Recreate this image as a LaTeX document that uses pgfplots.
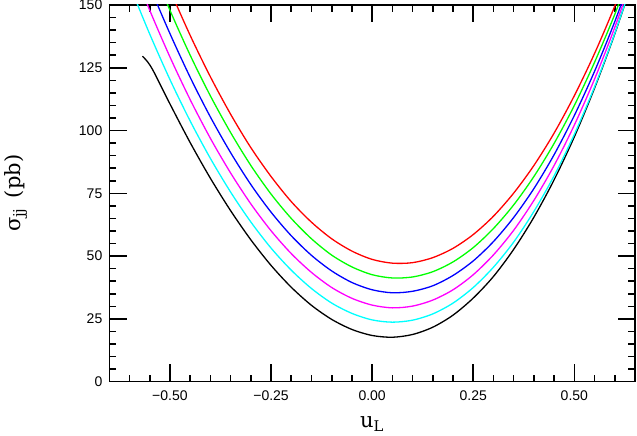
\documentclass[border=0pt]{standalone}
\usepackage{pgfplots}
\pgfplotsset{compat=1.18}
\usepackage{fontspec}
\setmainfont{Liberation Sans}
\newfontfamily\labelfont{DejaVu Serif}
\definecolor{cR}{RGB}{255,0,0}
\definecolor{cG}{RGB}{0,255,0}
\definecolor{cB}{RGB}{0,0,255}
\definecolor{cM}{RGB}{255,0,255}
\definecolor{cC}{RGB}{0,255,255}
\begin{document}
\begin{tikzpicture}
\begin{axis}[
  scale only axis,
  width=262.85pt, height=188.35pt,
  xmin=-0.65, xmax=0.65, ymin=0, ymax=150,
  axis line style={line width=0.8pt},
  every tick/.style={line width=0.8pt, black},
  tick align=inside, tick pos=both,
  major tick length=8.6pt, minor tick length=3.3pt,
  xtick={-0.5,-0.25,0,0.25,0.5},
  xticklabels={−0.50,−0.25,0.00,0.25,0.50},
  minor xtick={-0.6,-0.55,-0.45,-0.4,-0.35,-0.3,-0.2,-0.15,-0.1,-0.05,0.05,0.1,0.15,0.2,0.3,0.35,0.4,0.45,0.55,0.6},
  ytick={0,25,50,75,100,125,150},
  yticklabels={0,25,50,75,100,125,150},
  minor ytick={5,10,15,20,30,35,40,45,55,60,65,70,80,85,90,95,105,110,115,120,130,135,140,145},
  xticklabel style={font=\fontsize{7}{8}\selectfont, inner sep=0pt, anchor=north, yshift=-4.2pt},
  yticklabel style={font=\fontsize{7}{8}\selectfont, inner sep=0pt, anchor=east, xshift=-3.3pt},
  xlabel={\labelfont u\textsubscript{L}},
  ylabel={\labelfont σ\textsubscript{jj}\hspace{0.45em}(pb)},
  every axis x label/.style={at={([yshift=-23.15pt]axis description cs:0.5,0)}, anchor=base, font=\fontsize{10.5}{12}\selectfont},
  every axis y label/.style={at={([xshift=-44.3pt]axis description cs:0,0.5)}, rotate=90, anchor=base, font=\fontsize{10.5}{12}\selectfont},
  every axis plot/.append style={line width=0.65pt, smooth, no markers, line join=round},
]
\addplot[black] coordinates {(-0.568,129.6) (-0.555,127.3) (-0.54,123.4) (-0.50,110.6) (-0.45,95.2) (-0.40,81.0) (-0.35,68.1) (-0.30,56.5) (-0.25,46.3) (-0.20,37.6) (-0.15,30.4) (-0.10,24.8) (-0.05,20.8) (0,18.4) (0.05,17.7) (0.10,18.8) (0.15,21.7) (0.20,26.5) (0.25,33.3) (0.30,41.9) (0.35,52.7) (0.40,65.5) (0.45,80.4) (0.50,97.5) (0.55,116.9) (0.60,138.5) (0.65,162.5)};
\addplot[cC] coordinates {(-0.60,158.0) (-0.55,138.4) (-0.50,120.3) (-0.45,103.8) (-0.40,88.9) (-0.35,75.5) (-0.30,63.6) (-0.25,53.2) (-0.20,44.4) (-0.15,37.1) (-0.10,31.3) (-0.05,27.2) (0,24.6) (0.05,23.7) (0.10,24.5) (0.15,27.0) (0.20,31.3) (0.25,37.5) (0.30,45.6) (0.35,55.6) (0.40,67.8) (0.45,82.0) (0.50,98.5) (0.55,117.4) (0.60,138.7) (0.65,162.5)};
\addplot[cM] coordinates {(-0.60,168.1) (-0.55,147.9) (-0.50,129.3) (-0.45,112.3) (-0.40,96.9) (-0.35,83.1) (-0.30,70.8) (-0.25,60.1) (-0.20,51.0) (-0.15,43.5) (-0.10,37.5) (-0.05,33.2) (0,30.5) (0.05,29.4) (0.10,30.1) (0.15,32.5) (0.20,36.6) (0.25,42.6) (0.30,50.5) (0.35,60.3) (0.40,72.2) (0.45,86.1) (0.50,102.2) (0.55,120.5) (0.60,141.1) (0.65,164.2)};
\addplot[cB] coordinates {(-0.60,178.1) (-0.55,157.5) (-0.50,138.6) (-0.45,121.2) (-0.40,105.4) (-0.35,91.2) (-0.30,78.5) (-0.25,67.5) (-0.20,58.1) (-0.15,50.3) (-0.10,44.1) (-0.05,39.5) (0,36.6) (0.05,35.4) (0.10,36.0) (0.15,38.2) (0.20,42.3) (0.25,48.1) (0.30,55.8) (0.35,65.4) (0.40,76.9) (0.45,90.4) (0.50,106.0) (0.55,123.6) (0.60,143.4) (0.65,165.4)};
\addplot[cG] coordinates {(-0.55,167.3) (-0.50,147.9) (-0.45,130.0) (-0.40,113.8) (-0.35,99.2) (-0.30,86.1) (-0.25,74.7) (-0.20,65.0) (-0.15,56.9) (-0.10,50.4) (-0.05,45.7) (0,42.6) (0.05,41.3) (0.10,41.7) (0.15,43.8) (0.20,47.7) (0.25,53.4) (0.30,61.0) (0.35,70.4) (0.40,81.7) (0.45,94.9) (0.50,110.0) (0.55,127.2) (0.60,146.3) (0.65,167.5)};
\addplot[cR] coordinates {(-0.55,175.9) (-0.50,156.1) (-0.45,137.9) (-0.40,121.4) (-0.35,106.5) (-0.30,93.2) (-0.25,81.7) (-0.20,71.7) (-0.15,63.5) (-0.10,56.9) (-0.05,52.0) (0,48.7) (0.05,47.2) (0.10,47.4) (0.15,49.4) (0.20,53.1) (0.25,58.6) (0.30,65.9) (0.35,75.1) (0.40,86.1) (0.45,99.0) (0.50,113.9) (0.55,130.7) (0.60,149.6) (0.65,170.5)};
\end{axis}
\pgfresetboundingbox
\path ([xshift=-54.65pt, yshift=-27.15pt]current axis.south west) rectangle ([xshift=1pt, yshift=2.5pt]current axis.north east);
\end{tikzpicture}
\end{document}
